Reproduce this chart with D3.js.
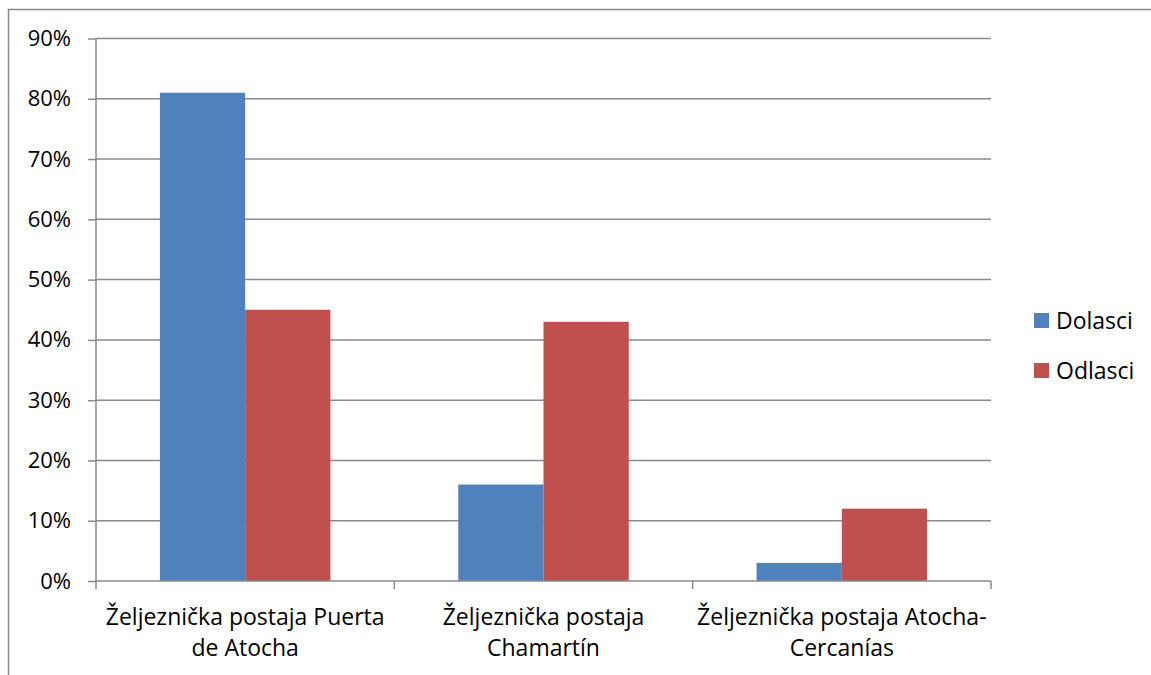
<!DOCTYPE html>
<html>
<head>
<meta charset="utf-8">
<script src="https://cdn.jsdelivr.net/npm/d3@7"></script>
<style>
  html, body { margin: 0; padding: 0; background: #fff; }
  svg { display: block; font-family: "Open Sans", "Noto Sans", sans-serif; }
</style>
</head>
<body>
<svg id="chart" width="1151" height="675"></svg>
<script>
const categories = [
  ["Željeznička postaja Puerta", "de Atocha"],
  ["Željeznička postaja", "Chamartín"],
  ["Željeznička postaja Atocha-", "Cercanías"]
];
const seriesNames = ["Dolasci", "Odlasci"];
const dolasci = [0.81, 0.16, 0.03];
const odlasci = [0.45, 0.43, 0.12];
const yTicks = [0, 0.1, 0.2, 0.3, 0.4, 0.5, 0.6, 0.7, 0.8, 0.9];
const colors = ["#4F81BD", "#C0504D"];

const svg = d3.select("#chart");
const W = 1151, H = 675;
const plot = { left: 96, right: 991, top: 38.5, bottom: 581 };
const gridColor = "#8a8a8a";
const tickFont = 22;
const labelFont = 23;

// outer frame (top and left edges visible)
svg.append("path")
  .attr("d", `M8.5,${H} L8.5,9.5 L${W},9.5`)
  .attr("fill", "none").attr("stroke", gridColor).attr("stroke-width", 1.5);

const idx = categories.map((d, i) => i);
const x0 = d3.scaleBand().domain(idx).range([plot.left, plot.right]).paddingInner(0).paddingOuter(0);
const bw = x0.bandwidth();
// Excel gap width 150%: each bar = band / 3.5, 0.75 bar gap on each side
const x1 = d3.scaleBand().domain([0, 1]).range([bw * 0.75 / 3.5, bw * 2.75 / 3.5]).padding(0);
const y = d3.scaleLinear().domain([0, 0.9]).range([plot.bottom, plot.top]);

// gridlines
svg.append("g").selectAll("line").data(yTicks.filter(d => d > 0)).join("line")
  .attr("x1", plot.left).attr("x2", plot.right)
  .attr("y1", d => y(d)).attr("y2", d => y(d))
  .attr("stroke", gridColor).attr("stroke-width", 1.5);

// bars
const series = [dolasci, odlasci];
series.forEach((vals, s) => {
  svg.append("g").selectAll("rect").data(vals).join("rect")
    .attr("x", (d, i) => x0(i) + x1(s))
    .attr("width", x1.bandwidth())
    .attr("y", d => y(d))
    .attr("height", d => y(0) - y(d))
    .attr("fill", colors[s]);
});

// y axis
const yAxis = d3.axisLeft(y).tickValues(yTicks).tickFormat(d3.format(".0%")).tickSize(8).tickPadding(17);
const gy = svg.append("g").attr("transform", `translate(${plot.left},0)`).call(yAxis);
gy.select(".domain").attr("stroke", gridColor).attr("stroke-width", 1.5).attr("d", `M0,${plot.top}V${plot.bottom}`);
gy.selectAll(".tick line").attr("stroke", gridColor).attr("stroke-width", 1.5);
gy.selectAll(".tick text").attr("font-size", tickFont).attr("fill", "#000").attr("font-family", "'Open Sans', sans-serif");

// x axis
const boundaries = idx.concat([idx.length]);
const gx = svg.append("g");
gx.append("line").attr("x1", plot.left).attr("x2", plot.right)
  .attr("y1", y(0)).attr("y2", y(0)).attr("stroke", gridColor).attr("stroke-width", 1.5);
gx.selectAll("line.tk").data(boundaries).join("line").attr("class", "tk")
  .attr("x1", d => d < idx.length ? x0(d) : plot.right)
  .attr("x2", d => d < idx.length ? x0(d) : plot.right)
  .attr("y1", y(0)).attr("y2", y(0) + 8)
  .attr("stroke", gridColor).attr("stroke-width", 1.5);

const labels = svg.append("g").selectAll("text").data(categories).join("text")
  .attr("x", (d, i) => x0(i) + x0.bandwidth() / 2)
  .attr("y", y(0) + 44)
  .attr("text-anchor", "middle").attr("font-size", labelFont).attr("fill", "#000");
labels.selectAll("tspan").data(d => d).join("tspan")
  .attr("x", function() { return this.parentNode.getAttribute("x"); })
  .attr("dy", (d, j) => j === 0 ? 0 : 31)
  .text(d => d);

// legend
const lg = svg.append("g").selectAll("g").data(seriesNames).join("g")
  .attr("transform", (d, i) => `translate(1034, ${313 + i * 50})`);
lg.append("rect").attr("width", 15).attr("height", 15).attr("fill", (d, i) => colors[i]);
lg.append("text").attr("x", 22).attr("y", 8).attr("dy", "0.35em")
  .attr("font-size", labelFont).attr("fill", "#000").text(d => d);
</script>
</body>
</html>
